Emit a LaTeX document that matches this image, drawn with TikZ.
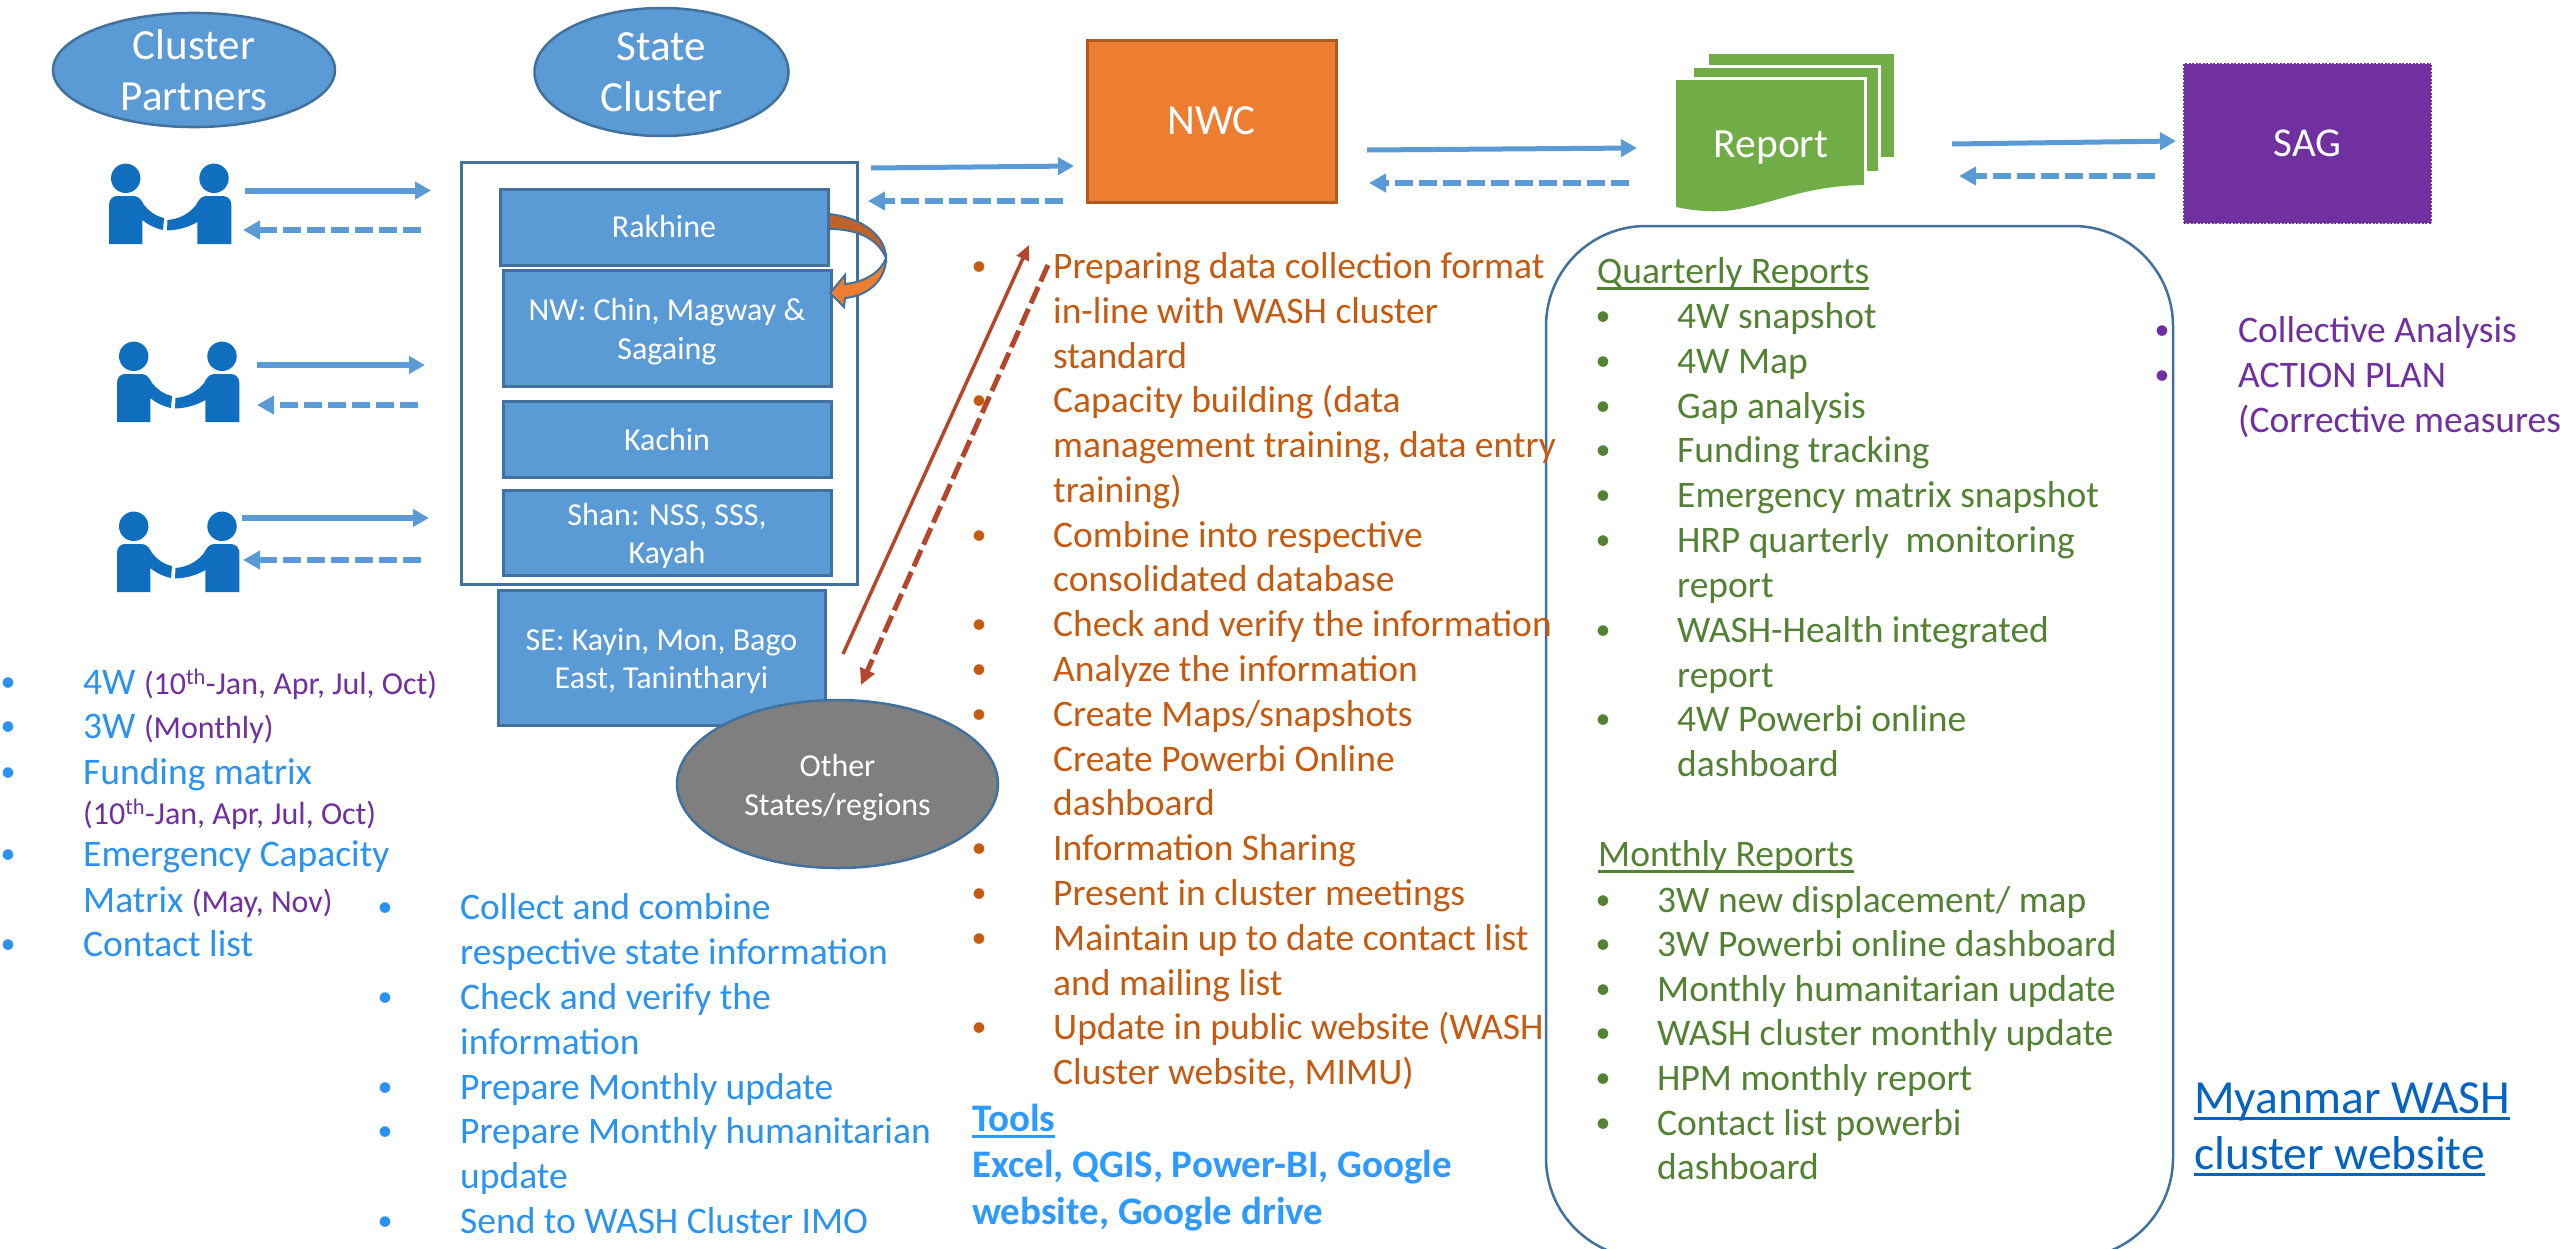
\documentclass[tikz,border=0pt]{standalone}
\usepackage{fontspec}
\setmainfont{Carlito}
\usetikzlibrary{arrows.meta,shapes.geometric}
\definecolor{blueshape}{HTML}{5B9BD5}
\definecolor{blueedge}{HTML}{41719C}
\definecolor{iconblue}{HTML}{106EBE}
\definecolor{nwcorange}{HTML}{ED7D31}
\definecolor{nwcedge}{HTML}{AE5A21}
\definecolor{darkorange}{HTML}{C0622A}
\definecolor{repgreen}{HTML}{70AD47}
\definecolor{sagpurple}{HTML}{7030A0}
\definecolor{grayfill}{HTML}{7F7F7F}
\definecolor{txtblue}{HTML}{2A92F0}
\definecolor{toolblue}{HTML}{2E9AFF}
\definecolor{txtorange}{HTML}{C55A11}
\definecolor{txtgreen}{HTML}{548235}
\definecolor{linkblue}{HTML}{0563C1}
\definecolor{brownline}{HTML}{B4472B}
\newcommand\myul[1]{\setbox0\hbox{#1}\rlap{\vrule height -3.5pt depth 6.5pt width \wd0}\box0}
\newcommand\smt[1]{{\fontsize{32}{38}\selectfont\color{sagpurple}#1}}
\newcommand\liftline{\rule{0pt}{29pt}}
\tikzset{
  x=1pt,y=-1pt,
  bluebox/.style={draw=blueedge,line width=3pt,fill=blueshape,text=white,inner sep=0pt,align=center,font=\fontsize{32}{38.7}\selectfont},
  blueoval/.style={ellipse,draw=blueedge,line width=2.5pt,fill=blueshape,text=white,inner sep=0pt,align=center,font=\fontsize{43}{50.5}\selectfont},
  flow/.style={blueshape,line width=5pt,-{Triangle[length=16pt,width=17pt]}},
  flowback/.style={blueshape,line width=6pt,dash pattern=on 18pt off 6pt,-{Triangle[length=17pt,width=18pt]}},
  listline/.style={anchor=base west,inner sep=0pt,font=\fontsize{37.5}{44}\selectfont},
  bulletmark/.style={anchor=base,inner sep=0pt,yshift=2.5pt,font=\fontsize{30}{36}\selectfont},
  shake/.pic={
    \fill[iconblue] (16.7,14.3) circle[radius=14.7pt];
    \fill[iconblue] (105,14.3) circle[radius=14.7pt];
    \fill[iconblue] (0,80) -- (0,41) .. controls (0,36) and (3,32) .. (8,32) -- (25,32)
      .. controls (30,32) and (33,37) .. (35,41) .. controls (40,47) and (46,52) .. (55,54)
      -- (54,66) .. controls (45,64) and (38,60) .. (33.3,56) -- (33.3,80) -- cycle;
    \fill[iconblue] (122.3,80) -- (122.3,41) .. controls (122.3,36) and (119,32) .. (114,32) -- (97,32)
      .. controls (92,32) and (89,37) .. (87,41) .. controls (80,50) and (70,55) .. (58.5,56)
      -- (58,66.5) .. controls (70,66) and (80,63) .. (88.3,58) -- (88.3,80) -- cycle;
  }
}
\begin{document}
\begin{tikzpicture}
\useasboundingbox (0,0) rectangle (2560,1248);
\clip (0,0) rectangle (2560,1248);
\fill[white] (0,0) rectangle (2560,1248);

% header ovals
\node[blueoval,minimum width=282pt,minimum height=110pt] (partners) at (194,70) {Cluster\\Partners};
\node[blueoval,minimum width=254pt,minimum height=128pt] (state) at (661.5,72) {State\\Cluster};

% state container and boxes
\node[draw=blueedge,line width=3pt,fill=white,minimum width=396pt,minimum height=422pt,inner sep=0pt] (container) at (659,373) {};
\node[bluebox,minimum width=328pt,minimum height=76pt] (rakhine) at (664,227) {Rakhine};
\node[bluebox,minimum width=328pt,minimum height=116pt] (nw) at (667,328) {\liftline NW: Chin, Magway \&\\Sagaing};
\node[bluebox,minimum width=328pt,minimum height=76pt] (kachin) at (667,439) {Kachin};
\node[bluebox,minimum width=328pt,minimum height=85pt] (shan) at (667,532.5) {\liftline Shan: NSS, SSS,\\Kayah};
\node[bluebox,minimum width=327pt,minimum height=135pt] (se) at (661.5,657.5) {\liftline SE: Kayin, Mon, Bago\\East, Tanintharyi};
\node[blueoval,fill=grayfill,font=\fontsize{32}{38.7}\selectfont,minimum width=321pt,minimum height=168pt] (other) at (837.5,784) {\liftline Other\\States/regions};

% curved arrow Rakhine to NW
\fill[darkorange,draw=blueedge,line width=2pt] (829,214) .. controls (865,218) and (886,238) .. (886,258)
  .. controls (878,240) and (860,229) .. (829,229) -- cycle;
\fill[nwcorange,draw=blueedge,line width=2pt] (886,258) .. controls (886,280) and (868,296) .. (845,298)
  -- (844,307) -- (830,293) -- (845,275) -- (845,284) .. controls (865,282) and (881,272) .. (886,258) -- cycle;

% main nodes
\node[draw=nwcedge,line width=3pt,fill=nwcorange,text=white,minimum width=249pt,minimum height=162pt,inner sep=0pt,font=\fontsize{43}{50}\selectfont] (nwc) at (1211.5,121) {NWC};

\fill[repgreen,draw=white,line width=3pt] (1707,52) rectangle (1895,158);
\fill[repgreen,draw=white,line width=3pt] (1692,66) rectangle (1879,172);
\fill[repgreen] (1676,80) -- (1864,80) -- (1864,185) .. controls (1800,186) and (1770,206) .. (1725,211)
  .. controls (1705,212) and (1690,210) .. (1676,207) -- cycle;
\draw[white,line width=3pt] (1676,78.5) -- (1865.5,78.5) -- (1865.5,185);
\node[text=white,inner sep=0pt,anchor=base,font=\fontsize{41.5}{50}\selectfont] (report) at (1771,157) {Report};

\node[fill=sagpurple,minimum width=249pt,minimum height=161pt,inner sep=0pt,text=white,font=\fontsize{41}{50}\selectfont] (sag) at (2307.5,143.5) {SAG};
\draw[white,dotted,line width=1.5pt] (sag.north west) rectangle (sag.south east);

% rounded report frame
\draw[blueedge,line width=2.5pt,rounded corners=100pt] (1546,226) rectangle (2173,1258);

% handshake icons
\pic at (109,164) {shake};
\pic at (117,342) {shake};
\pic at (117,512) {shake};

% connectors
\foreach \nm/\xa/\ya/\xb/\yb in {pa/245/190.5/431/190.5,pb/257/365/425/365,pc/242/518/429/518}{
  \coordinate (\nm s) at (\xa,\ya);
  \coordinate (\nm e) at (\xb,\yb);
  \draw[flow,line width=6pt] (\nm s) -- (\nm e);
}
\foreach \nm/\xa/\ya/\xb/\yb in {sa/871/168/1074/166,sb/1367/150/1637/148,sc/1952/144/2176/141}{
  \coordinate (\nm s) at (\xa,\ya);
  \coordinate (\nm e) at (\xb,\yb);
  \draw[flow] (\nm s) -- (\nm e);
}
\foreach \nm/\xa/\ya/\xb/\yb in {qa/421/230/243/230,qb/418/405/257/405,qc/421/560/243/560,ra/1063/201/868/201,rb/1629/183/1369/183,rc/2155/176/1959/176}{
  \coordinate (\nm s) at (\xa,\ya);
  \coordinate (\nm e) at (\xb,\yb);
  \draw[flowback] (\nm s) -- (\nm e);
}
\coordinate (upfrom) at (843,654);
\coordinate (upto) at (1029,245);
\coordinate (downfrom) at (1048,265);
\coordinate (downto) at (861,685);
\draw[brownline,line width=3.5pt,-{Triangle[length=15pt,width=13pt]}] (upfrom) -- (upto);
\draw[brownline,line width=5pt,dash pattern=on 18pt off 6pt,-{Triangle[length=16pt,width=15pt]}] (downfrom) -- (downto);

% partners list
\foreach \y/\t [count=\i] in {
 694/{4W \smt{(10\textsuperscript{th}-Jan, Apr, Jul, Oct)}},
 738/{3W \smt{(Monthly)}},
 784/{Funding matrix},
 824/{\smt{(10\textsuperscript{th}-Jan, Apr, Jul, Oct)}},
 866/{Emergency Capacity},
 912/{Matrix \smt{(May, Nov)}},
 956/{Contact list}}{
  \node[listline,text=txtblue] (partnerline\i) at (83,\y) {\t};
}
\foreach \y [count=\i] in {694,738,784,866,956}{
  \node[bulletmark,text=txtblue] (partnerdot\i) at (8,\y) {•};
}

% state list
\foreach \y/\t [count=\i] in {
 919/{Collect and combine},
 964/{respective state information},
 1009/{Check and verify the},
 1054/{information},
 1099/{Prepare Monthly update},
 1143/{Prepare Monthly humanitarian},
 1188/{update},
 1233/{Send to WASH Cluster IMO}}{
  \node[listline,text=txtblue] (stateline\i) at (460,\y) {\t};
}
\foreach \y [count=\i] in {919,1009,1099,1143,1233}{
  \node[bulletmark,text=txtblue] (statedot\i) at (385,\y) {•};
}

% NWC list
\foreach \y/\t [count=\i] in {
 278/{Preparing data collection format},
 323/{in-line with WASH cluster},
 368/{standard},
 412/{Capacity building (data},
 457/{management training, data entry},
 502/{training)},
 547/{Combine into respective},
 591/{consolidated database},
 636/{Check and verify the information},
 681/{Analyze the information},
 726/{Create Maps/snapshots},
 771/{Create Powerbi Online},
 815/{dashboard},
 860/{Information Sharing},
 905/{Present in cluster meetings},
 950/{Maintain up to date contact list},
 995/{and mailing list},
 1039/{Update in public website (WASH},
 1084/{Cluster website, MIMU)}}{
  \node[listline,text=txtorange] (nwcline\i) at (1053,\y) {\t};
}
\foreach \y [count=\i] in {278,412,547,636,681,726,860,905,950,1039}{
  \node[bulletmark,text=txtorange] (nwcdot\i) at (979,\y) {•};
}

% tools
\node[listline,text=toolblue,font=\fontsize{39}{44}\selectfont\bfseries] (toolshead) at (972,1131) {\myul{Tools}};
\node[listline,text=toolblue,font=\fontsize{39}{44}\selectfont\bfseries] (toolsa) at (972,1177) {Excel, QGIS, Power-BI, Google};
\node[listline,text=toolblue,font=\fontsize{39}{44}\selectfont\bfseries] (toolsb) at (972,1224) {website, Google drive};

% report lists
\node[listline,text=txtgreen] (quarterly) at (1597,283) {\myul{Quarterly Reports}};
\foreach \y/\t [count=\i] in {
 328/{4W snapshot},
 373/{4W Map},
 418/{Gap analysis},
 462/{Funding tracking},
 507/{Emergency matrix snapshot},
 552/{HRP quarterly\ \ monitoring},
 597/{report},
 642/{WASH-Health integrated},
 687/{report},
 731/{4W Powerbi online},
 776/{dashboard}}{
  \node[listline,text=txtgreen] (qline\i) at (1677,\y) {\t};
}
\foreach \y [count=\i] in {328,373,418,462,507,552,642,731}{
  \node[bulletmark,text=txtgreen] (qdot\i) at (1603,\y) {•};
}
\node[listline,text=txtgreen] (monthly) at (1598,866) {\myul{Monthly Reports}};
\foreach \y/\t [count=\i] in {
 912/{3W new displacement/ map},
 956/{3W Powerbi online dashboard},
 1001/{Monthly humanitarian update},
 1045/{WASH cluster monthly update},
 1090/{HPM monthly report},
 1135/{Contact list powerbi},
 1179/{dashboard}}{
  \node[listline,text=txtgreen] (mline\i) at (1657,\y) {\t};
}
\foreach \y [count=\i] in {912,956,1001,1045,1090,1135}{
  \node[bulletmark,text=txtgreen] (mdot\i) at (1603,\y) {•};
}

% SAG list
\foreach \y/\t [count=\i] in {342/{Collective Analysis},387/{ACTION PLAN},432/{(Corrective measures}}{
  \node[listline,text=sagpurple] (sagline\i) at (2238,\y) {\t};
}
\foreach \y [count=\i] in {342,387}{
  \node[bulletmark,text=sagpurple] (sagdot\i) at (2162,\y) {•};
}

% website link
\node[listline,text=linkblue,font=\fontsize{47.5}{56}\selectfont] (linka) at (2194,1113) {\myul{Myanmar WASH}};
\node[listline,text=linkblue,font=\fontsize{47.5}{56}\selectfont] (linkb) at (2194,1169) {\myul{cluster website}};
\end{tikzpicture}
\end{document}
